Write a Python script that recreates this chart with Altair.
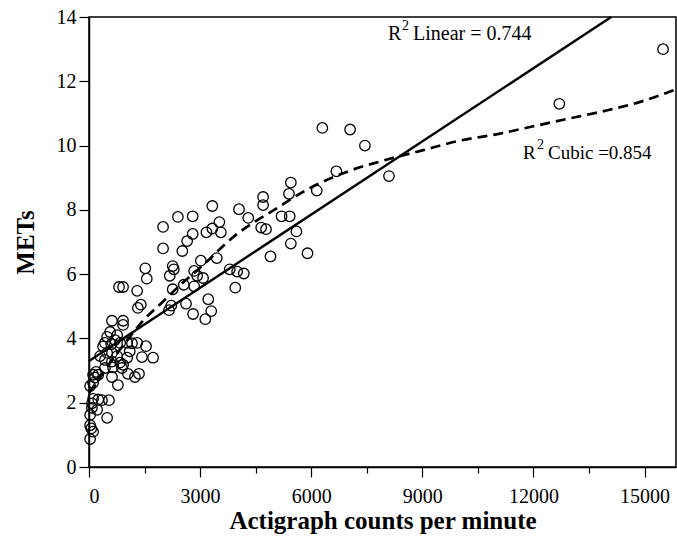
import altair as alt
import pandas as pd

# Scatter data
counts = [15500, 12700, 6300, 7050, 7450, 6680, 8100, 5450, 5400, 6150, 4700, 4700, 4300, 4050,
          5200, 5420, 4650, 4780, 5600, 5450, 4900, 5900, 3800, 4000, 4180, 3950,
          3330, 2400, 2800, 2000, 3520, 3330, 3170, 3560, 2800, 2650, 2000, 2520, 3020, 3450,
          2260, 2290, 1520, 1560, 2180, 2840, 2920, 3080, 2560, 2840, 2260, 810, 920, 1300,
          3220, 2620, 2220, 2160, 3300, 2810, 3140, 1400, 1320, 620, 920, 920,
          570, 760, 490, 430, 380, 600, 840, 1030, 1160, 1300, 1540, 1430, 1730, 1030,
          490, 620, 430, 620, 760, 840, 920, 430, 650, 890, 190, 110, 250, 160, 30, 110,
          1050, 1240, 1350, 620, 780, 110, 250, 350, 540, 80, 80, 220, 30, 490, 30, 60,
          110, 30, 300, 700, 1100]
mets = [13.0, 11.3, 10.55, 10.5, 10.0, 9.2, 9.05, 8.85, 8.5, 8.6, 8.4, 8.15, 7.75, 8.02,
        7.8, 7.8, 7.45, 7.4, 7.33, 6.95, 6.55, 6.65, 6.15, 6.08, 6.02, 5.58,
        8.12, 7.78, 7.8, 7.47, 7.62, 7.42, 7.3, 7.3, 7.25, 7.03, 6.8, 6.72, 6.42, 6.5,
        6.25, 6.15, 6.18, 5.86, 5.95, 6.1, 5.95, 5.88, 5.67, 5.62, 5.53, 5.6, 5.6, 5.48,
        5.22, 5.08, 5.02, 4.88, 4.85, 4.76, 4.6, 5.05, 4.95, 4.55, 4.55, 4.42,
        4.2, 4.1, 4.05, 3.86, 3.75, 3.82, 3.86, 3.86, 3.85, 3.86, 3.76, 3.42, 3.4, 3.4,
        3.55, 3.55, 3.33, 3.28, 3.45, 3.25, 3.18, 3.08, 3.1, 3.08, 2.96, 2.87, 2.87, 2.78, 2.52, 2.62,
        2.9, 2.8, 2.9, 2.8, 2.55, 2.12, 2.1, 2.08, 2.08, 1.98, 1.84, 1.78, 1.62, 1.53, 1.3, 1.2,
        1.1, 0.87, 3.45, 3.95, 3.6]

# Linear fit line (start and where it meets the top)
linear_x = [0, 14100]
linear_y = [3.3, 14.0]

# Cubic fit curve
cubic_x = [0, 1000, 1500, 2000, 2500, 3000, 4000, 5000, 6000, 7000, 8000, 9000,
           10000, 11000, 12000, 13000, 14000, 15000, 15850]
cubic_y = [2.3, 3.9, 4.6, 5.15, 5.7, 6.2, 7.25, 8.0, 8.7, 9.2, 9.55, 9.85,
           10.15, 10.35, 10.6, 10.85, 11.1, 11.4, 11.75]

# Annotation texts: "R", superscript "2", rest
r_base = ["R", "R"]
r_sup = ["2", "2"]
r_rest = ["Linear = 0.744", "Cubic =0.854"]

FONT = "Liberation Serif"

pts_df = pd.DataFrame({"counts": counts, "mets": mets})
lin_df = pd.DataFrame({"counts": linear_x, "mets": linear_y})
cub_df = pd.DataFrame({"counts": cubic_x, "mets": cubic_y})

x_scale = alt.Scale(domain=[0, 15850], nice=False, zero=False)
y_scale = alt.Scale(domain=[0, 14], nice=False)

x_axis = alt.Axis(
    title="Actigraph counts per minute",
    values=list(range(0, 15001, 750)),
    format="d",
    labelExpr="datum.value % 3000 === 0 ? datum.label : ''",
    labelOverlap=False,
    tickSize={"condition": {"test": "datum.value % 3000 === 0", "value": 10}, "value": 6},
    grid=False,
    domainColor="black", domainWidth=1.5,
    tickColor="black", tickWidth=1.2,
    labelFont=FONT, labelFontSize=20, labelColor="black", labelPadding=9,
    titleFont=FONT, titleFontSize=25, titleFontWeight="bold", titleColor="black",
    titlePadding=2,
)
y_axis = alt.Axis(
    title="METs",
    values=list(range(0, 15)),
    labelExpr="datum.value % 2 === 0 ? datum.label : ''",
    labelOverlap=False,
    tickSize={"condition": {"test": "datum.value % 2 === 0", "value": 10}, "value": 6},
    grid=False,
    domainColor="black", domainWidth=1.5,
    tickColor="black", tickWidth=1.2,
    labelFont=FONT, labelFontSize=20, labelColor="black", labelPadding=3,
    titleFont=FONT, titleFontSize=25, titleFontWeight="bold", titleColor="black",
    titlePadding=18,
)

points = alt.Chart(pts_df).mark_point(
    shape="circle", filled=False, size=110, color="black", strokeWidth=1.3, opacity=1
).encode(
    x=alt.X("counts:Q", scale=x_scale, axis=x_axis),
    y=alt.Y("mets:Q", scale=y_scale, axis=y_axis),
)

linear = alt.Chart(lin_df).mark_line(color="black", strokeWidth=2.4).encode(
    x="counts:Q", y="mets:Q"
)

cubic = alt.Chart(cub_df).mark_line(
    color="black", strokeWidth=2.7, strokeDash=[10, 6], interpolate="monotone"
).encode(x="counts:Q", y="mets:Q")


def label_layers(i, x0, base_y, size):
    df = pd.DataFrame({"r": [r_base[i]], "s": [r_sup[i]], "t": [r_rest[i]]})
    base = alt.Chart(df)
    r = base.mark_text(align="left", baseline="alphabetic", font=FONT, fontSize=size,
                       color="black").encode(x=alt.value(x0), y=alt.value(base_y), text="r:N")
    s = base.mark_text(align="left", baseline="alphabetic", font=FONT, fontSize=14,
                       color="black").encode(x=alt.value(x0 + 14), y=alt.value(base_y - 10), text="s:N")
    t = base.mark_text(align="left", baseline="alphabetic", font=FONT, fontSize=size,
                       color="black").encode(x=alt.value(x0 + 25), y=alt.value(base_y), text="t:N")
    return [r, s, t]


texts = label_layers(0, 299, 23, 20) + label_layers(1, 434, 142, 19)

chart = alt.layer(points, linear, cubic, *texts).properties(
    width=587,
    height=450,
    autosize=alt.AutoSizeParams(type="none"),
    padding={"left": 89, "top": 17, "right": 1, "bottom": 71},
    background="white",
).configure_view(stroke="black", strokeWidth=1.5)

chart.save("out.html", embed_options={"renderer": "svg", "actions": False})
